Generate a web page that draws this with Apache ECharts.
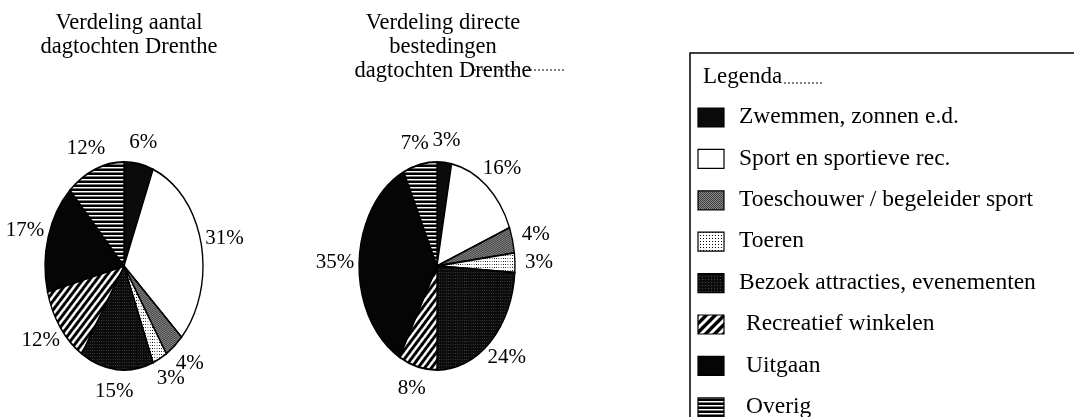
<!DOCTYPE html>
<html>
<head>
<meta charset="utf-8">
<script src="https://cdn.jsdelivr.net/npm/echarts@6/dist/echarts.min.js"></script>
<style>
  html, body { margin: 0; padding: 0; background: #fff; }
  #main { width: 1074px; height: 417px; }
</style>
</head>
<body>
<div id="main"></div>
<script>
// categorieen (volgorde van de legenda, ook de volgorde van de taartpunten, met de klok mee vanaf 12 uur)
var categories = ['Zwemmen, zonnen e.d.', 'Sport en sportieve rec.', 'Toeschouwer / begeleider sport', 'Toeren',
  'Bezoek attracties, evenementen', 'Recreatief winkelen', 'Uitgaan', 'Overig'];
// percentages
var aantal = [6, 31, 4, 3, 15, 12, 17, 12];
var bestedingen = [3, 16, 4, 3, 24, 8, 35, 7];
var titleAantal = 'Verdeling aantal\ndagtochten Drenthe';
var titleBestedingen = 'Verdeling directe\nbestedingen\ndagtochten Drenthe';
var legendTitle = 'Legenda';

var SERIF = '"Liberation Serif", "Times New Roman", serif';

// arceringen als kleine canvas-patronen
function pattern(w, h, draw) {
  var c = document.createElement('canvas');
  c.width = w; c.height = h;
  var ctx = c.getContext('2d');
  draw(ctx, w, h);
  return { image: c, repeat: 'repeat' };
}
var fills = [
  '#0b0b0b',
  '#ffffff',
  pattern(2, 2, function (ctx) {
    ctx.fillStyle = '#8c8c8c'; ctx.fillRect(0, 0, 2, 2);
    ctx.fillStyle = '#3c3c3c'; ctx.fillRect(0, 0, 1, 1); ctx.fillRect(1, 1, 1, 1);
  }),
  pattern(3, 3, function (ctx) {
    ctx.fillStyle = '#fff'; ctx.fillRect(0, 0, 3, 3);
    ctx.fillStyle = '#000'; ctx.fillRect(1, 1, 1, 1);
  }),
  pattern(3, 3, function (ctx) {
    ctx.fillStyle = '#0c0c0c'; ctx.fillRect(0, 0, 3, 3);
    ctx.fillStyle = '#444'; ctx.fillRect(0, 0, 1, 1);
  }),
  pattern(9, 9, function (ctx) {
    ctx.fillStyle = '#000'; ctx.fillRect(0, 0, 9, 9);
    ctx.strokeStyle = '#fff'; ctx.lineWidth = 3;
    [-9, 0, 9].forEach(function (o) {
      ctx.beginPath(); ctx.moveTo(o - 1, 10); ctx.lineTo(o + 10, -1); ctx.stroke();
    });
  }),
  '#050505',
  pattern(4, 4, function (ctx) {
    ctx.fillStyle = '#000'; ctx.fillRect(0, 0, 4, 4);
    ctx.fillStyle = '#fff'; ctx.fillRect(0, 1, 4, 1);
    ctx.fillStyle = '#777'; ctx.fillRect(0, 2, 4, 1);
  })
];

// ovale taart via custom series (sector geschaald in x)
function ovalPie(values, cx, cy, rx, ry) {
  var total = values.reduce(function (a, b) { return a + b; }, 0);
  var starts = [];
  var acc = 0;
  values.forEach(function (v) { starts.push(acc); acc += v; });
  return {
    type: 'custom',
    coordinateSystem: 'none',
    silent: true,
    data: values,
    renderItem: function (params, api) {
      var i = params.dataIndex;
      var v = api.value(0);
      var a0 = starts[i] / total * Math.PI * 2 - Math.PI / 2;
      var a1 = (starts[i] + v) / total * Math.PI * 2 - Math.PI / 2;
      var mid = (a0 + a1) / 2;
      var c = Math.cos(mid), s = Math.sin(mid);
      return {
        type: 'group',
        children: [{
          type: 'sector',
          x: cx, y: cy,
          scaleX: rx / ry,
          shape: { cx: 0, cy: 0, r0: 0, r: ry, startAngle: a0, endAngle: a1, clockwise: true },
          style: { fill: fills[i], stroke: '#000', lineWidth: 1.8 }
        }, {
          type: 'text',
          x: cx + (rx + 24) * c,
          y: cy + (ry + 22) * s,
          style: {
            text: v + '%',
            fill: '#000',
            font: '21px ' + SERIF,
            align: 'center',
            verticalAlign: 'middle'
          }
        }]
      };
    }
  };
}

var chart = echarts.init(document.getElementById('main'));

// legenda als graphic-elementen
var legendGraphics = [{
  type: 'rect',
  shape: { x: 690, y: 53, width: 420, height: 400 },
  style: { fill: 'none', stroke: '#000', lineWidth: 1.5 }
}, {
  type: 'text',
  x: 703, y: 77,
  style: { text: legendTitle, font: '23px ' + SERIF, fill: '#000', verticalAlign: 'middle' }
}, {
  type: 'line',
  shape: { x1: 784, y1: 83, x2: 824, y2: 83 },
  style: { stroke: '#000', lineWidth: 1, lineDash: [2, 2] }
}];
categories.forEach(function (name, i) {
  var y = 117 + i * 41.4;
  legendGraphics.push({
    type: 'rect',
    shape: { x: 698, y: y - 9, width: 26, height: 19 },
    style: { fill: fills[i], stroke: '#000', lineWidth: 1.2 }
  });
  legendGraphics.push({
    type: 'text',
    x: i < 5 ? 739 : 746, y: y,
    style: { text: name, font: '23.5px ' + SERIF, fill: '#000', verticalAlign: 'middle' }
  });
});
// stippellijn achter de titel rechts
legendGraphics.push({
  type: 'line',
  shape: { x1: 474, y1: 70, x2: 565, y2: 70 },
  style: { stroke: '#000', lineWidth: 1, lineDash: [2, 2] }
});

var option = {
  backgroundColor: '#fff',
  animation: false,
  title: [{
    text: titleAantal,
    left: 124, top: 6,
    textAlign: 'center',
    textStyle: { fontFamily: SERIF, fontSize: 22.5, fontWeight: 'normal', color: '#000', lineHeight: 24 }
  }, {
    text: titleBestedingen,
    left: 438, top: 6,
    textAlign: 'center',
    textStyle: { fontFamily: SERIF, fontSize: 22.5, fontWeight: 'normal', color: '#000', lineHeight: 24 }
  }],
  graphic: legendGraphics,
  series: [
    ovalPie(aantal, 124, 266, 79, 104),
    ovalPie(bestedingen, 437, 266, 78, 104)
  ]
};
chart.setOption(option);
</script>
</body>
</html>
